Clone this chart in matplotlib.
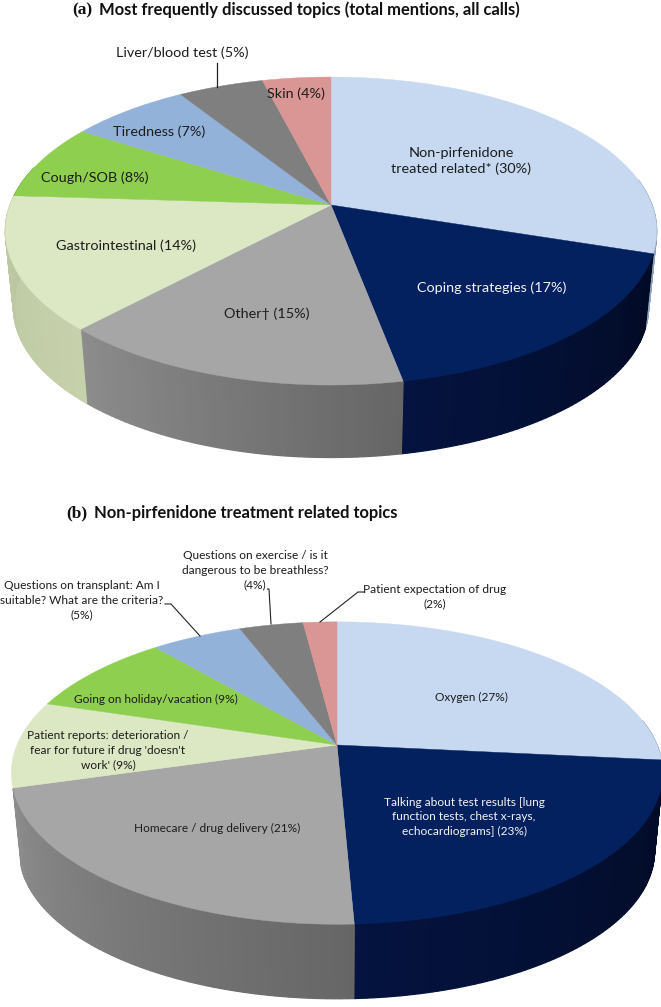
import matplotlib
matplotlib.use('Agg')
import matplotlib.pyplot as plt
import numpy as np

plt.rcParams['font.family'] = ['Lato', 'DejaVu Sans']

# slice sizes, clockwise from 12 o'clock
values_a = [30, 17, 15, 14, 8, 7, 5, 4]
values_b = [26.6, 22.7, 21.2, 9.3, 9.0, 5.4, 3.8, 2.0]

labels_a = ['Non-pirfenidone\ntreated related* (30%)', 'Coping strategies (17%)', 'Other† (15%)',
            'Gastrointestinal (14%)', 'Cough/SOB (8%)', 'Tiredness (7%)', 'Liver/blood test (5%)', 'Skin (4%)']
labels_b = ['Oxygen (27%)',
            'Talking about test results [lung\nfunction tests, chest x-rays,\nechocardiograms] (23%)',
            'Homecare / drug delivery (21%)',
            "Patient reports: deterioration /\nfear for future if drug 'doesn't\nwork' (9%)",
            'Going on holiday/vacation (9%)',
            'Questions on transplant: Am I\nsuitable? What are the criteria?\n(5%)',
            'Questions on exercise / is it\ndangerous to be breathless?\n(4%)',
            'Patient expectation of drug\n(2%)']

pos_a = [(461, 161), (492, 288), (267, 314), (126, 246), (95, 178), (159, 132), (182, 53), (296, 94)]
pos_b = [(471, 697), (464, 817), (217, 828), (108, 750), (156, 699), (82, 600), (255, 570), (435, 597)]

top_cols = ['#c6d9f1', '#03215f', '#a6a6a6', '#dce7c3', '#8ecf50', '#92b2da', '#7f7f7f', '#d99694']
txt_cols = ['#1c1c1c', '#f4f4f4', '#1c1c1c', '#1c1c1c', '#1c1c1c', '#1c1c1c', '#1c1c1c', '#1c1c1c']
# wall shading, start and end of each slice going clockwise
wall_cols = [('#8ea3bd', '#8ea3bd'), ('#020a24', '#04133f'), ('#666666', '#8c8c8c'),
             ('#c6d1ac', '#b9c69f'), ('#7aa844', '#7aa844'), ('#7f9cc0', '#7f9cc0'),
             ('#666666', '#666666'), ('#b58080', '#b58080')]


def project(theta, cx, cy, a, b, k):
    # perspective circle, theta in degrees clockwise from top
    t = np.radians(theta)
    u, v = np.sin(t), np.cos(t)
    den = 1 + k * v
    return cx + b * u / den, cy - a * v / den


def draw_pie(ax, values, cx, cy, a, b, k, depth, shrink, wall_end):
    edges = np.concatenate([[0], np.cumsum(values)]) / np.sum(values) * 360
    # side wall first
    for i in range(len(values)):
        lo, hi = max(edges[i], 80), min(edges[i + 1], wall_end)
        if hi <= lo:
            continue
        steps = np.linspace(lo, hi, int(hi - lo) + 2)
        c0 = np.array(matplotlib.colors.to_rgb(wall_cols[i][0]))
        c1 = np.array(matplotlib.colors.to_rgb(wall_cols[i][1]))
        for j in range(len(steps) - 1):
            th = np.array([steps[j], steps[j + 1]])
            x1, y1 = project(th, cx, cy, a, b, k)
            x2, y2 = project(th[::-1], cx, cy + depth, a * shrink, b * shrink, k)
            col = c0 + (c1 - c0) * j / max(len(steps) - 2, 1)
            ax.fill(np.r_[x1, x2], np.r_[y1, y2], color=col, lw=0.9, zorder=1)
    # top face
    for i in range(len(values)):
        th = np.linspace(edges[i], edges[i + 1], 80)
        x, y = project(th, cx, cy, a, b, k)
        ax.fill(np.r_[cx, x], np.r_[cy, y], color=top_cols[i], lw=0.3, zorder=2)


fig = plt.figure(figsize=(6.61, 10.07), dpi=100)
ax = fig.add_axes([0, 0, 1, 1])
ax.set_xlim(0, 661)
ax.set_ylim(1007, 0)
ax.axis('off')

draw_pie(ax, values_a, 331, 205, 149.6, 321, 0.169, 77, 0.975, 285)
draw_pie(ax, values_b, 337, 745, 146, 320, 0.1855, 79, 0.975, 253.5)

for lab, (x, y), c in zip(labels_a, pos_a, txt_cols):
    ax.text(x, y, lab, ha='center', va='center', fontsize=10.4, color=c, linespacing=1.39, zorder=3)
for lab, (x, y), c in zip(labels_b, pos_b, txt_cols):
    ax.text(x, y, lab, ha='center', va='center', fontsize=8.6, color=c, linespacing=1.37, zorder=3)

# leader lines
ax.plot([217, 217], [63, 87], color='#222222', lw=0.9, zorder=3)
ax.plot([165, 171, 200], [604, 604, 636], color='#222222', lw=0.8, zorder=3)
ax.plot([267.5, 269, 271], [589, 589, 624], color='#222222', lw=0.8, zorder=3)
ax.plot([364, 358, 320], [592, 592, 622], color='#222222', lw=0.8, zorder=3)

# titles
ax.text(72, 10, '(a)', family='Liberation Serif', fontweight='bold', fontsize=12.5, va='center', color='#111111')
ax.text(99, 10, 'Most frequently discussed topics (total mentions, all calls)', fontweight='bold',
        fontsize=11.9, va='center', color='#111111')
ax.text(66, 513, '(b)', family='Liberation Serif', fontweight='bold', fontsize=12.5, va='center', color='#111111')
ax.text(94, 513, 'Non-pirfenidone treatment related topics', fontweight='bold',
        fontsize=11.9, va='center', color='#111111')

fig.savefig('out.png', dpi=100)
